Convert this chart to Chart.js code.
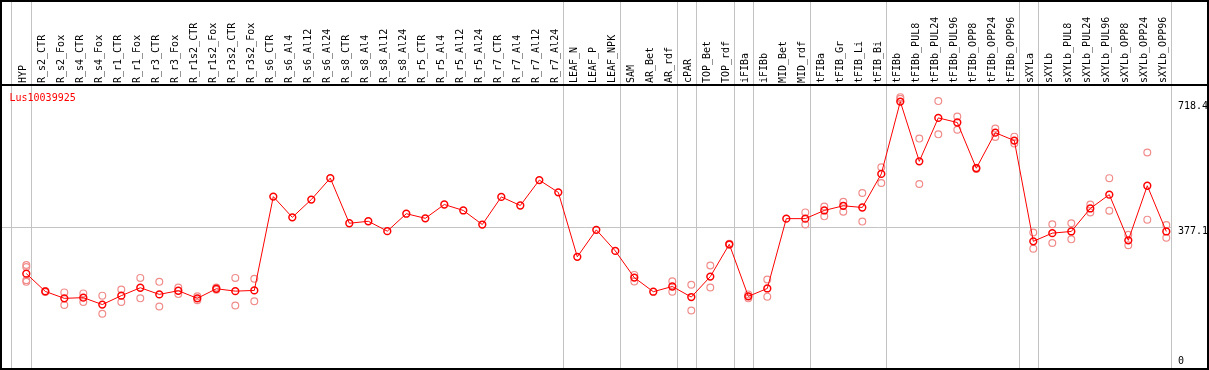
<!DOCTYPE html>
<html><head><meta charset="utf-8">
<script src="https://cdn.jsdelivr.net/npm/chart.js@4/dist/chart.umd.min.js"></script>
<style>html,body{margin:0;padding:0;background:#fff;overflow:hidden}#wrap{width:1209px;height:370px;position:relative}</style>
</head><body><div id="wrap"><canvas id="c" width="1209" height="370"></canvas></div>
<script>
const categories = ["HYP","R_s2_CTR","R_s2_Fox","R_s4_CTR","R_s4_Fox","R_r1_CTR","R_r1_Fox","R_r3_CTR","R_r3_Fox","R_r1s2_CTR","R_r1s2_Fox","R_r3s2_CTR","R_r3s2_Fox","R_s6_CTR","R_s6_Al4","R_s6_Al12","R_s6_Al24","R_s8_CTR","R_s8_Al4","R_s8_Al12","R_s8_Al24","R_r5_CTR","R_r5_Al4","R_r5_Al12","R_r5_Al24","R_r7_CTR","R_r7_Al4","R_r7_Al12","R_r7_Al24","LEAF_N","LEAF_P","LEAF_NPK","SAM","AR_Bet","AR_rdf","cPAR","TOP_Bet","TOP_rdf","iFIBa","iFIBb","MID_Bet","MID_rdf","tFIBa","tFIB_Gr","tFIB_Li","tFIB_Bi","tFIBb","tFIBb_PUL8","tFIBb_PUL24","tFIBb_PUL96","tFIBb_OPP8","tFIBb_OPP24","tFIBb_OPP96","sXYLa","sXYLb","sXYLb_PUL8","sXYLb_PUL24","sXYLb_PUL96","sXYLb_OPP8","sXYLb_OPP24","sXYLb_OPP96"];
const meanValues = [248.3,199.7,180.8,182.7,163.8,188.1,209.7,191.6,201.6,180.8,207.0,200.5,202.4,
 458.8,402.2,450.7,509.3,386.0,391.4,364.4,412.1,399.5,437.2,421.0,382.5,458.0,434.5,503.9,470.4,
 294.2,367.9,310.4,237.5,198.9,213.2,184.3,240.2,328.5,186.2,207.8,398.6,398.6,421.0,433.7,429.1,520.9,
 718.4,555.2,673.9,661.3,536.3,633.5,611.9,336.6,359.0,363.6,426.4,464.2,339.3,488.5,363.6];
const repA = [271.8,201,197.0,194.3,188.1,205.1,236.7,225.9,210.5,186.2,210.5,236.7,234.0,
 null,null,null,null,null,null,null,null,null,null,null,null,null,null,null,null,null,null,null,
 244.8,null,227.5,217.8,270.7,330,191.6,232.1,null,
 415.6,431.8,444.5,468.8,539.0,730.6,617.3,719.8,677.4,538,645.1,622.7,360.9,383.3,386.0,437.2,509.3,354.4,579.5,381.4];
const repB = [230.2,198,162.7,170.8,138.5,170.8,180.8,158.4,192.4,175.4,204,161.1,172.7,
 null,null,null,null,null,null,null,null,null,null,null,null,null,null,null,null,null,null,null,
 226.7,null,198.9,147.6,210.5,327,180.8,185.4,null,
 382.5,404.9,417.5,390.5,495.8,726,493.1,628.9,641.5,534,621.6,603.8,316.6,332.0,342.0,415.6,420.2,325.8,395.9,346.3];
const hypExtraReps = [266.4, 225.9];
const groupEnds = [-1,0,28,31,34,35,37,38,41,45,52,53,60];
const yTickValues = [0, 377.1, 718.4];
const gridValues = [377.1];
const yMax = 763.8;
const geneTitle = "Lus10039925";

const FONT = "DejaVu Sans Mono";
const deco = {
  id: 'deco',
  beforeDatasetsDraw(chart) {
    const {ctx, scales: {x, y}} = chart;
    ctx.save();
    ctx.strokeStyle = '#c3c3c3';
    ctx.lineWidth = 1;
    const step = x.getPixelForValue(1) - x.getPixelForValue(0);
    groupEnds.forEach(i => {
      let px = i < 0 ? x.getPixelForValue(0) - step + 3.4 : x.getPixelForValue(i) + 4.2;
      px = Math.round(px) + 0.5;
      ctx.beginPath(); ctx.moveTo(px, 0); ctx.lineTo(px, 370); ctx.stroke();
    });
    const right = Math.round(x.getPixelForValue(60) + 4.2);
    gridValues.forEach(v => {
      const py = Math.round(y.getPixelForValue(v)) + 0.5;
      ctx.beginPath(); ctx.moveTo(0, py); ctx.lineTo(right, py); ctx.stroke();
    });
    ctx.restore();
  },
  afterDraw(chart) {
    const {ctx, scales: {y}} = chart;
    ctx.save();
    ctx.fillStyle = '#000';
    ctx.fillRect(0, 84, 1209, 2);
    ctx.strokeStyle = '#000'; ctx.lineWidth = 2;
    ctx.strokeRect(1, 1, 1207, 368);
    ctx.font = '10px "' + FONT + '"';
    ctx.textBaseline = 'middle';
    ctx.textAlign = 'left';
    ctx.fillStyle = '#ff0000';
    ctx.fillText(geneTitle, 9.5, 98.5);
    ctx.fillStyle = '#000';
    yTickValues.forEach(v => {
      const py = Math.min(y.getPixelForValue(v) + 4.5, 361.5);
      ctx.fillText(String(v), 1178, py);
    });
    ctx.restore();
  }
};

new Chart(document.getElementById('c'), {
  type: 'line',
  data: {
    labels: categories,
    datasets: [
      { data: meanValues, order: 0, borderColor: '#ff0000', borderWidth: 1, tension: 0,
        pointRadius: 3.4, pointBorderWidth: 1.5, pointBorderColor: '#ff0000', pointBackgroundColor: 'rgba(0,0,0,0)', fill: false },
      { data: repA, order: 1, showLine: false, pointRadius: 3.4, pointBorderWidth: 1.2,
        pointBorderColor: '#f08c8c', pointBackgroundColor: 'rgba(0,0,0,0)' },
      { data: repB, order: 1, showLine: false, pointRadius: 3.4, pointBorderWidth: 1.2,
        pointBorderColor: '#f08c8c', pointBackgroundColor: 'rgba(0,0,0,0)' },
      { data: hypExtraReps.map(v => ({x: categories[0], y: v})), order: 1, showLine: false, pointRadius: 3.4, pointBorderWidth: 1.2,
        pointBorderColor: '#f08c8c', pointBackgroundColor: 'rgba(0,0,0,0)' }
    ]
  },
  options: {
    responsive: false, animation: false, devicePixelRatio: 1,
    layout: { padding: { left: 16.8, right: 33.2, top: 0, bottom: 2 } },
    plugins: { legend: { display: false }, tooltip: { enabled: false } },
    scales: {
      x: {
        type: 'category', position: 'top', offset: true,
        grid: { display: false, drawTicks: false }, border: { display: false },
        ticks: { autoSkip: false, minRotation: 90, maxRotation: 90, padding: 2, color: '#000',
          font: { family: FONT, size: 10, lineHeight: 0.25 } },
        afterFit(scale) { scale.height = 85; }
      },
      y: { display: false, min: 0, max: yMax }
    }
  },
  plugins: [deco]
});
</script>
</body></html>
